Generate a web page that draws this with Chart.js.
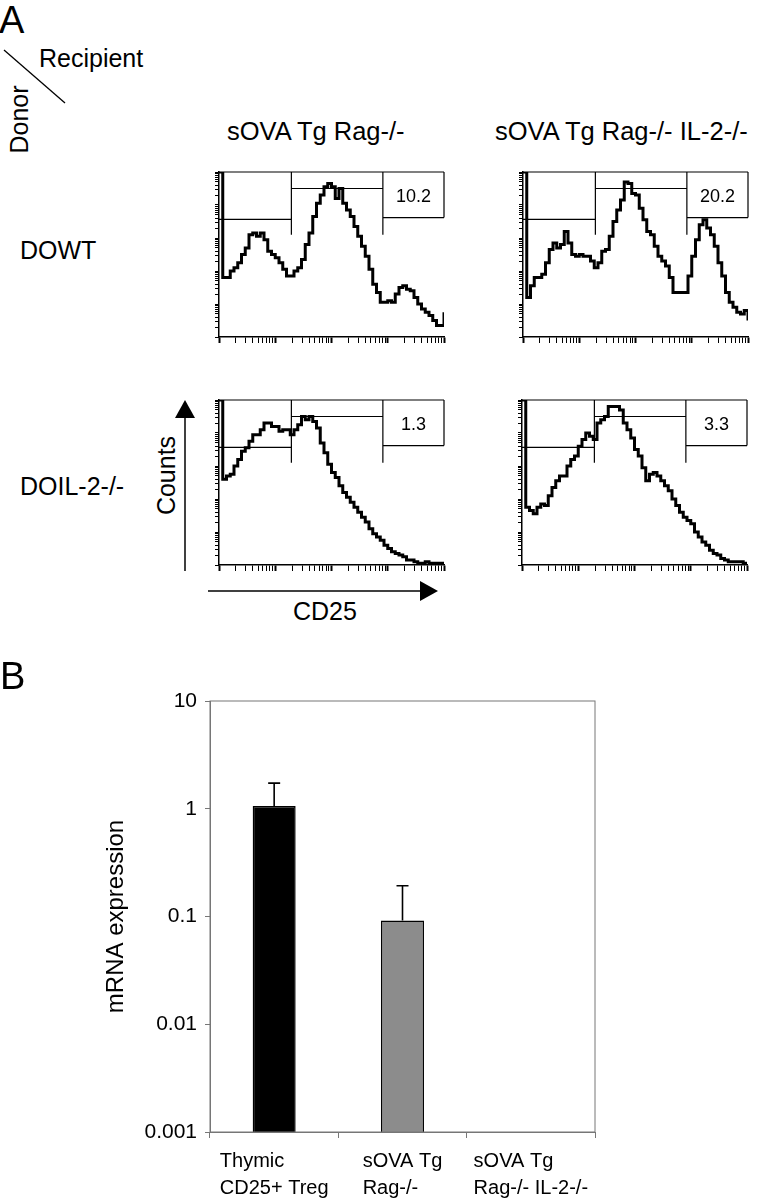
<!DOCTYPE html>
<html>
<head>
<meta charset="utf-8">
<script src="https://cdn.jsdelivr.net/npm/chart.js@4.4.0/dist/chart.umd.min.js"></script>
<style>
  body { margin: 0; background: #fff; }
  #page { position: relative; width: 760px; height: 1200px; overflow: hidden; font-family: 'Liberation Sans', Arial, sans-serif; color: #000; }
  .t { position: absolute; line-height: 1; white-space: nowrap; }
  .rot { position: absolute; line-height: 1; white-space: nowrap; text-align: center; transform: rotate(-90deg); }
  canvas { position: absolute; }
</style>
</head>
<body>
<div id="page">
  <canvas id="barChart" width="760" height="560" style="left:0;top:640px"></canvas>

  <div class="t" style="left:-1px;top:1px;font-size:38px">A</div>
  <div class="t" style="left:39px;top:46px;font-size:25px">Recipient</div>
  <div class="rot" style="left:-21px;top:107px;width:80px;font-size:25px">Donor</div>
  <div class="t" style="left:227px;top:119px;font-size:25.5px">sOVA Tg Rag-/-</div>
  <div class="t" style="left:495px;top:119px;font-size:25.5px">sOVA Tg Rag-/- IL-2-/-</div>
  <div class="t" style="left:20px;top:238px;font-size:25px">DOWT</div>
  <div class="t" style="left:20px;top:474px;font-size:25px">DOIL-2-/-</div>
  <div class="rot" style="left:121px;top:463px;width:90px;font-size:25px">Counts</div>
  <div class="t" style="left:293px;top:599px;font-size:25px">CD25</div>
  <div class="t" style="left:0;top:657px;font-size:38px">B</div>

  <svg width="760" height="640" style="position:absolute;left:0;top:0" xmlns="http://www.w3.org/2000/svg">
    <line x1="4" y1="50" x2="65" y2="103" stroke="#000" stroke-width="1.3"/>
    <line x1="185" y1="571" x2="185" y2="412" stroke="#000" stroke-width="1.5"/>
    <polygon points="185,400 175,418 195,418" fill="#000"/>
    <line x1="208" y1="591" x2="424" y2="591" stroke="#000" stroke-width="1.5"/>
    <polygon points="438,591 420,581 420,601" fill="#000"/>
  </svg>
</div>

<script>
// CD25 histograms, counts per channel (0-60 over 4 log decades), % of panel height
const dowtRag = [100, 36, 36, 40, 42, 45, 50, 54, 62, 63, 61, 63, 59, 52, 50, 48, 45, 41, 37, 37,
  40, 42, 47, 56, 63, 73, 81, 86, 91, 93, 91, 84, 90, 81, 77, 73, 67, 61, 55, 49,
  41, 32, 27, 21, 21, 22, 21, 26, 30, 31, 29, 28, 24, 20, 17, 15, 13, 10, 7, 7, 15];
const dowtRagIl2 = [100, 24, 31, 36, 36, 38, 45, 53, 57, 54, 56, 64, 57, 50, 49, 50, 49, 49, 46, 42,
  45, 52, 53, 61, 70, 77, 83, 94, 93, 87, 86, 78, 71, 64, 62, 55, 49, 46, 43, 36,
  27, 27, 27, 27, 37, 49, 59, 68, 71, 66, 62, 55, 45, 37, 27, 21, 18, 15, 14, 16, 10];
const doil2Rag = [100, 52, 54, 55, 60, 64, 69, 71, 75, 79, 79, 82, 86, 86, 84, 84, 81, 82, 82, 79,
  82, 85, 90, 88, 90, 87, 83, 74, 68, 61, 56, 53, 48, 44, 41, 38, 35, 32, 29, 26,
  22, 19, 17, 15, 12, 10, 8, 7, 6, 5, 3, 3, 2, 1, 1, 2, 1, 1, 1, 1, 1];
const doil2RagIl2 = [100, 35, 33, 31, 35, 37, 36, 42, 47, 51, 54, 54, 60, 64, 66, 72, 76, 80, 78, 76,
  86, 88, 90, 96, 96, 96, 94, 86, 82, 77, 70, 66, 59, 51, 55, 56, 54, 51, 48, 45,
  40, 36, 32, 29, 27, 25, 20, 17, 14, 12, 9, 7, 6, 4, 3, 2, 2, 2, 2, 1, 1];
const gatePercents = ["10.2", "20.2", "1.3", "3.3"];
const gateEdges = [19.3, 43.7];       // channel of gate borders
const gateLevels = [71.3, 90, 72.4];  // height of each gate bar
const gateDividerEnd = 62;

// qPCR panel
const groups = [["Thymic", "CD25+ Treg"], ["sOVA Tg", "Rag-/-"], ["sOVA Tg", "Rag-/- IL-2-/-"]];
const mrna = [1.06, 0.092, null];
const mrnaErr = [1.73, 0.193, null];
const mrnaTicks = [0.001, 0.01, 0.1, 1, 10];
const mrnaTickLabels = ["0.001", "0.01", "0.1", "1", "10"];

Chart.defaults.font.family = "'Liberation Sans', Arial, sans-serif";
Chart.defaults.color = "#000";

// where each histogram's plot box goes on the page
const panels = [
  {id: "h1", data: dowtRag, left: 219, top: 172, label: gatePercents[0]},
  {id: "h2", data: dowtRagIl2, left: 523, top: 172, label: gatePercents[1]},
  {id: "h3", data: doil2Rag, left: 219, top: 400, label: gatePercents[2]},
  {id: "h4", data: doil2RagIl2, left: 522, top: 400, label: gatePercents[3]},
];

function logTicks(decades) {
  return (scale) => {
    const t = [];
    for (let d = 0; d < decades; d++) {
      for (let k = 1; k < 10; k++) t.push({value: k * Math.pow(10, d), major: k === 1});
    }
    t.push({value: Math.pow(10, decades), major: true});
    scale.ticks = t;
  };
}

const gatePlugin = {
  id: "gates",
  afterDatasetsDraw(chart, args, opts) {
    const {ctx, chartArea: a} = chart;
    const x = chart.scales.x, y = chart.scales.y;
    const e1 = x.getPixelForValue(gateEdges[0]);
    const e2 = x.getPixelForValue(gateEdges[1]);
    const yl = gateLevels.map(v => y.getPixelForValue(v));
    const yd = y.getPixelForValue(gateDividerEnd);
    ctx.save();
    ctx.strokeStyle = "#000";
    ctx.lineWidth = 1.2;
    ctx.beginPath();
    ctx.moveTo(a.left, a.top); ctx.lineTo(a.right, a.top);
    ctx.moveTo(a.right, a.top); ctx.lineTo(a.right, yl[2]);
    ctx.moveTo(a.left, yl[0]); ctx.lineTo(e1, yl[0]);
    ctx.moveTo(e1, a.top); ctx.lineTo(e1, yd);
    ctx.moveTo(e1, yl[1]); ctx.lineTo(e2, yl[1]);
    ctx.moveTo(e2, a.top); ctx.lineTo(e2, yd);
    ctx.moveTo(e2, yl[2]); ctx.lineTo(a.right, yl[2]);
    ctx.stroke();
    ctx.fillStyle = "#000";
    ctx.font = "18px 'Liberation Sans', Arial, sans-serif";
    ctx.textAlign = "center";
    ctx.textBaseline = "middle";
    ctx.fillText(opts.label, (e2 + a.right) / 2, (a.top + yl[2]) / 2 + 2);
    ctx.restore();
  }
};

panels.forEach((p) => {
  const cv = document.createElement("canvas");
  cv.width = 260; cv.height = 191;
  cv.style.left = (p.left - 20) + "px";
  cv.style.top = (p.top - 12) + "px";
  document.getElementById("page").appendChild(cv);
  new Chart(cv.getContext("2d"), {
    type: "line",
    data: {
      datasets: [{
        data: p.data.map((v, i) => ({x: i, y: v})),
        xAxisID: "x",
        yAxisID: "y",
        borderColor: "#000",
        borderWidth: 3,
        stepped: true,
        pointRadius: 0,
        fill: false,
      }],
    },
    options: {
      responsive: false,
      animation: false,
      devicePixelRatio: 1,
      layout: {padding: {left: 15, top: 12, right: 15, bottom: 7}},
      scales: {
        x: {type: "linear", min: 0, max: 60, display: false},
        y: {type: "linear", min: 0, max: 100, display: false},
        xt: {
          type: "logarithmic", position: "bottom", min: 1, max: 10000,
          afterBuildTicks: logTicks(4),
          afterFit: (s) => { s.height = 7; },
          ticks: {display: false},
          border: {color: "#000", width: 1.5},
          grid: {drawOnChartArea: false, tickLength: 6, color: "#000",
            tickWidth: (c) => (c.tick && c.tick.major ? 2 : 1)},
        },
        yt: {
          type: "logarithmic", position: "left", min: 1, max: 100000,
          afterBuildTicks: logTicks(5),
          afterFit: (s) => { s.width = 5; },
          ticks: {display: false},
          border: {color: "#000", width: 1.5},
          grid: {drawOnChartArea: false, tickLength: 4, color: "#000", tickWidth: 1},
        },
      },
      plugins: {
        legend: {display: false},
        tooltip: {enabled: false},
        gates: {label: p.label},
      },
    },
    plugins: [gatePlugin],
  });
});

// Panel B: frame, error bars and left-aligned two-line category labels
const framePlugin = {
  id: "frame",
  afterDatasetsDraw(chart) {
    const {ctx, chartArea: a} = chart;
    ctx.save();
    ctx.strokeStyle = "#777";
    ctx.lineWidth = 1;
    ctx.strokeRect(a.left, a.top, a.right - a.left, a.bottom - a.top);

    const meta = chart.getDatasetMeta(0);
    const yScale = chart.scales.y;
    ctx.strokeStyle = "#000";
    ctx.lineWidth = 1.6;
    mrnaErr.forEach((e, i) => {
      if (e === null || mrna[i] === null) return;
      const bar = meta.data[i];
      const ye = yScale.getPixelForValue(e);
      ctx.beginPath();
      ctx.moveTo(bar.x, bar.y);
      ctx.lineTo(bar.x, ye);
      ctx.moveTo(bar.x - 6, ye);
      ctx.lineTo(bar.x + 6, ye);
      ctx.stroke();
    });

    const xScale = chart.scales.x;
    ctx.fillStyle = "#000";
    ctx.font = "20px 'Liberation Sans', Arial, sans-serif";
    ctx.textAlign = "left";
    ctx.textBaseline = "alphabetic";
    groups.forEach((lines, i) => {
      const cx = xScale.getPixelForValue(i);
      const w = Math.max(...lines.map(l => ctx.measureText(l).width));
      lines.forEach((l, j) => ctx.fillText(l, cx - w / 2, a.bottom + 35 + j * 27));
    });
    ctx.restore();
  }
};

new Chart(document.getElementById("barChart").getContext("2d"), {
  type: "bar",
  data: {
    labels: groups.map(g => g.join(" ")),
    datasets: [{
      data: mrna,
      backgroundColor: ["#000000", "#8c8c8c", "#ffffff"],
      borderColor: "#000",
      borderWidth: 1.5,
      categoryPercentage: 1,
      barPercentage: 0.335,
    }],
  },
  options: {
    responsive: false,
    animation: false,
    devicePixelRatio: 1,
    layout: {padding: {left: 100, top: 61, right: 165, bottom: 0}},
    scales: {
      x: {
        type: "category",
        afterFit: (s) => { s.height = 68; },
        ticks: {display: false},
        border: {color: "#777", width: 1},
        grid: {offset: true, drawOnChartArea: false, tickLength: 6, color: "#777"},
      },
      y: {
        type: "logarithmic",
        min: 0.001,
        max: 10,
        afterBuildTicks: (s) => { s.ticks = mrnaTicks.map(v => ({value: v})); },
        afterFit: (s) => { s.width = 110; },
        ticks: {
          font: {size: 21},
          padding: 8,
          callback: (v) => mrnaTickLabels[mrnaTicks.indexOf(v)],
        },
        border: {color: "#777", width: 1},
        grid: {drawOnChartArea: false, tickLength: 5, color: "#777"},
        title: {display: true, text: "mRNA expression", font: {size: 24}, padding: {top: 2, bottom: 0}},
      },
    },
    plugins: {
      legend: {display: false},
      tooltip: {enabled: false},
    },
  },
  plugins: [framePlugin],
});
</script>
</body>
</html>
